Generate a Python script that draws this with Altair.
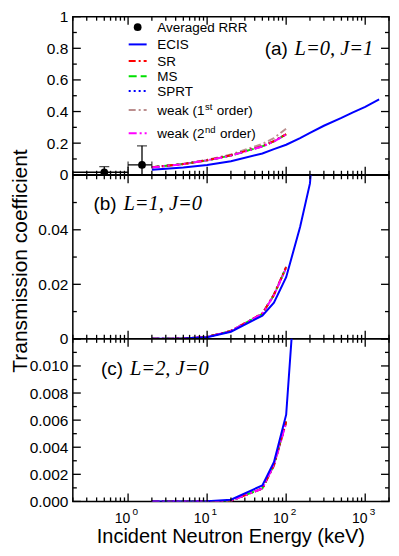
import altair as alt
import pandas as pd

# ---------------- data ----------------
E_MODEL = [2, 5, 10, 20, 50, 70, 100]                      # keV
E_ECIS_A = [2, 5, 10, 20, 50, 70, 100, 150, 200, 300, 500, 700, 1000, 1500]
E_ECIS_BC = [2, 5, 10, 20, 50, 70, 100, 150, 200, 300]

# (a) L=0, J=1
ECIS_A = [0.032, 0.046, 0.062, 0.085, 0.135, 0.162, 0.190, 0.232, 0.265, 0.310, 0.360, 0.395, 0.430, 0.477]
SR_A = [0.047, 0.068, 0.092, 0.123, 0.181, 0.213, 0.257]
MS_A = [0.047, 0.068, 0.091, 0.122, 0.180, 0.212, 0.255]
SPRT_A = [0.047, 0.068, 0.091, 0.122, 0.180, 0.212, 0.256]
W1_A = [0.047, 0.069, 0.095, 0.128, 0.195, 0.232, 0.292]
W2_A = [0.046, 0.067, 0.091, 0.121, 0.179, 0.211, 0.254]

# (b) L=1, J=0
ECIS_B = [0.00002, 0.0001, 0.0006, 0.0026, 0.0085, 0.0133, 0.0226, 0.041, 0.057, 0.12]
SR_B = [0.00002, 0.0001, 0.0007, 0.0029, 0.0093, 0.0162, 0.0263]
MS_B = [0.00002, 0.0001, 0.0007, 0.0029, 0.0092, 0.0161, 0.0262]
SPRT_B = [0.00002, 0.0001, 0.0007, 0.0029, 0.0092, 0.0161, 0.0262]
W1_B = [0.00002, 0.0001, 0.0007, 0.0029, 0.0093, 0.0163, 0.0265]
W2_B = [0.00002, 0.0001, 0.0007, 0.0029, 0.0092, 0.0160, 0.0260]

# (c) L=2, J=0
ECIS_C = [0.0, 0.000001, 0.00001, 0.00013, 0.00118, 0.0029, 0.0064, 0.0209, 0.045, 0.1]
SR_C = [0.0, 0.0, 0.000005, 0.00005, 0.00095, 0.0027, 0.0059]
MS_C = [0.0, 0.0, 0.000005, 0.00005, 0.00096, 0.0027, 0.0059]
SPRT_C = [0.0, 0.0, 0.000005, 0.00005, 0.00096, 0.0027, 0.0059]
W1_C = [0.0, 0.0, 0.000005, 0.00005, 0.00094, 0.0026, 0.0058]
W2_C = [0.0, 0.0, 0.000005, 0.00005, 0.00095, 0.0027, 0.0058]

# Averaged RRR points
RRR_E = [0.5, 1.5]
RRR_T = [0.016, 0.062]
RRR_DT = [0.035, 0.121]
RRR_ELO = [0.1, 1.0]
RRR_EHI = [1.0, 2.0]

# axis ticks / labels
X_DOMAIN = [0.2, 2000]
X_MAJOR = [1, 10, 100, 1000]
X_MINOR = [0.2, 0.3, 0.4, 0.5, 0.6, 0.7, 0.8, 0.9,
           2, 3, 4, 5, 6, 7, 8, 9,
           20, 30, 40, 50, 60, 70, 80, 90,
           200, 300, 400, 500, 600, 700, 800, 900, 2000]
X_LABEL_BASE = ["10", "10", "10", "10"]
X_LABEL_EXP = ["0", "1", "2", "3"]

YA_MAJOR = [0, 0.2, 0.4, 0.6, 0.8, 1.0]
YA_MINOR = [0.1, 0.3, 0.5, 0.7, 0.9]
YA_LABELS = [0, 0.2, 0.4, 0.6, 0.8, 1.0]
YB_MAJOR = [0, 0.02, 0.04, 0.06]
YB_MINOR = [0.01, 0.03, 0.05]
YB_LABELS = [0, 0.02, 0.04]
YC_MAJOR = [0, 0.002, 0.004, 0.006, 0.008, 0.010, 0.012]
YC_MINOR = [0.001, 0.003, 0.005, 0.007, 0.009, 0.011]
YC_LABELS = [0, 0.002, 0.004, 0.006, 0.008, 0.010]

LEGEND_NAMES = ["Averaged RRR", "ECIS", "SR", "MS", "SPRT", "weak (1", "weak (2"]
LEGEND_SUP = ["st", "nd"]
LEGEND_TAIL = "order)"
PANEL_TAGS = ["(a)", "(b)", "(c)"]
PANEL_QN = ["L=0, J=1", "L=1, J=0", "L=2, J=0"]
X_TITLE = "Incident Neutron Energy (keV)"
Y_TITLE = "Transmission coefficient"

# ---------------- styles / layout ----------------
W = 317
H_A, H_B, H_C = 158.5, 164, 163
TOP_SHIFT = 3.5          # panel (a) starts this much lower than in the reference
SANS = "Liberation Sans"
SERIF = "Liberation Serif"
STYLE = {
    "ECIS": dict(color="#0000ff", strokeWidth=2),
    "SR": dict(color="#ff0000", strokeDash=[7, 3, 2, 3], strokeWidth=2),
    "MS": dict(color="#00e000", strokeDash=[8, 4], strokeWidth=2),
    "SPRT": dict(color="#0000ff", strokeDash=[2, 3], strokeWidth=2),
    "weak1": dict(color="#bc8f8f", strokeDash=[7, 3, 2, 3], strokeWidth=2),
    "weak2": dict(color="#ff00ff", strokeDash=[8, 3, 2, 3, 2, 3], strokeWidth=2),
}
MAJ_LEN, MIN_LEN = 8, 4
TICK_W = 1.3

xs = alt.Scale(type="log", domain=X_DOMAIN, nice=False)


def one_row(**kw):
    return pd.DataFrame({k: [v] for k, v in kw.items()})


def panel(H, ydom, ylabels, yfmt, ymaj, ymin, curves, extra_layers):
    ys = alt.Scale(domain=ydom, nice=False, zero=False)
    yaxis = alt.Axis(values=ylabels, format=yfmt, ticks=False, tickSize=0, domain=False,
                     grid=False, title=None, labelFontSize=15.5, labelPadding=5,
                     labelFont=SANS, labelColor="black", labelFlush=False,
                     labelOverlap=False)

    def X(f):
        return alt.X(f, type="quantitative", scale=xs, axis=None)

    def Y(f):
        return alt.Y(f, type="quantitative", scale=ys, axis=yaxis)

    layers = []
    for E, vals, key in curves:
        df = pd.DataFrame({"E": E, "T": vals})
        layers.append(alt.Chart(df).mark_line(clip=True, **STYLE[key]).encode(x=X("E"), y=Y("T")))

    # inward ticks on all four sides
    for vals, L in ((X_MAJOR, MAJ_LEN), (X_MINOR, MIN_LEN)):
        df = pd.DataFrame({"v": vals})
        layers.append(alt.Chart(df).mark_rule(color="black", strokeWidth=TICK_W).encode(
            x=X("v"), y=alt.value(0), y2=alt.value(L)))
        layers.append(alt.Chart(df).mark_rule(color="black", strokeWidth=TICK_W).encode(
            x=X("v"), y=alt.value(H), y2=alt.value(H - L)))
    for vals, L in ((ymaj, MAJ_LEN), (ymin, MIN_LEN)):
        df = pd.DataFrame({"v": vals})
        layers.append(alt.Chart(df).mark_rule(color="black", strokeWidth=TICK_W).encode(
            y=Y("v"), x=alt.value(0), x2=alt.value(L)))
        layers.append(alt.Chart(df).mark_rule(color="black", strokeWidth=TICK_W).encode(
            y=Y("v"), x=alt.value(W), x2=alt.value(W - L)))

    for make in extra_layers:
        layers.append(make(X, Y))
    return alt.layer(*layers).properties(width=W, height=H)


def tag_layers(i, x_tag, x_qn, y_base):
    def mk_tag(X, Y):
        return alt.Chart(one_row(t=PANEL_TAGS[i])).mark_text(
            font=SANS, fontSize=19, align="left", baseline="alphabetic", color="black"
        ).encode(text="t:N", x=alt.value(x_tag), y=alt.value(y_base))

    def mk_qn(X, Y):
        return alt.Chart(one_row(t=PANEL_QN[i])).mark_text(
            font=SERIF, fontSize=20.5, fontStyle="italic", align="left",
            baseline="alphabetic", color="black"
        ).encode(text="t:N", x=alt.value(x_qn), y=alt.value(y_base))
    return [mk_tag, mk_qn]


# ---- panel (a) extras: data points with error bars + legend ----
rrr = pd.DataFrame({"E": RRR_E, "T": RRR_T,
                    "lo": [t - d for t, d in zip(RRR_T, RRR_DT)],
                    "hi": [t + d for t, d in zip(RRR_T, RRR_DT)],
                    "Elo": RRR_ELO, "Ehi": RRR_EHI})


def rrr_layers():
    def v_bar(X, Y):
        return alt.Chart(rrr).mark_rule(clip=True, color="black", strokeWidth=1.3).encode(
            x=X("E"), y=Y("lo"), y2="hi:Q")

    def h_bar(X, Y):
        return alt.Chart(rrr).mark_rule(clip=True, color="black", strokeWidth=1.3).encode(
            x=X("Elo"), x2="Ehi:Q", y=Y("T"))

    def cap_top(X, Y):
        return alt.Chart(rrr).mark_tick(clip=True, orient="horizontal", size=10,
                                        thickness=1.3, color="black").encode(x=X("E"), y=Y("hi"))

    def cap_l(X, Y):
        return alt.Chart(rrr).mark_tick(clip=True, orient="vertical", size=7,
                                        thickness=1.3, color="black").encode(x=X("Elo"), y=Y("T"))

    def cap_r(X, Y):
        return alt.Chart(rrr).mark_tick(clip=True, orient="vertical", size=7,
                                        thickness=1.3, color="black").encode(x=X("Ehi"), y=Y("T"))

    def pts(X, Y):
        return alt.Chart(rrr).mark_point(filled=True, size=60, color="black", opacity=1).encode(
            x=X("E"), y=Y("T"))
    return [v_bar, h_bar, cap_top, cap_l, cap_r, pts]


LEG_ROW_Y = [y - TOP_SHIFT for y in (14, 31.3, 48, 63.3, 78, 97, 120.3)]
LEG_SYM_X0, LEG_SYM_X1, LEG_DOT_X, LEG_TXT_X = 56, 74, 65, 84.7
LEG_FS, SUP_FS = 13.5, 9.5
LEG_KEYS = [None, "ECIS", "SR", "MS", "SPRT", "weak1", "weak2"]


def legend_layers():
    out = []

    def dot(X, Y):
        return alt.Chart(one_row(k=0)).mark_point(filled=True, size=60, color="black", opacity=1).encode(
            x=alt.value(LEG_DOT_X), y=alt.value(LEG_ROW_Y[0]))
    out.append(dot)
    for j in range(1, 7):
        key = LEG_KEYS[j]
        yv = LEG_ROW_Y[j]

        def sym(X, Y, key=key, yv=yv):
            return alt.Chart(one_row(k=0)).mark_rule(**STYLE[key]).encode(
                x=alt.value(LEG_SYM_X0), x2=alt.value(LEG_SYM_X1), y=alt.value(yv))
        out.append(sym)
    for j in range(7):
        yv = LEG_ROW_Y[j] + 4.6

        def lab(X, Y, j=j, yv=yv):
            return alt.Chart(one_row(t=LEGEND_NAMES[j])).mark_text(
                font=SANS, fontSize=LEG_FS, align="left", baseline="alphabetic", color="black"
            ).encode(text="t:N", x=alt.value(LEG_TXT_X), y=alt.value(yv))
        out.append(lab)
    # superscripts and tails for the two "weak" rows
    base_w = 3.501 * LEG_FS  # width of "weak (1" in Helvetica/Arial metrics
    sup_w = [0.778 * SUP_FS, 1.112 * SUP_FS]
    for s in range(2):
        yv = LEG_ROW_Y[5 + s] + 4.6
        xs_sup = LEG_TXT_X + base_w + 0.6
        xs_tail = xs_sup + sup_w[s] + 0.278 * LEG_FS + 0.6

        def sup(X, Y, s=s, yv=yv, xx=xs_sup):
            return alt.Chart(one_row(t=LEGEND_SUP[s])).mark_text(
                font=SANS, fontSize=SUP_FS, align="left", baseline="alphabetic", color="black"
            ).encode(text="t:N", x=alt.value(xx), y=alt.value(yv - 5))

        def tail(X, Y, yv=yv, xx=xs_tail):
            return alt.Chart(one_row(t=LEGEND_TAIL)).mark_text(
                font=SANS, fontSize=LEG_FS, align="left", baseline="alphabetic", color="black"
            ).encode(text="t:N", x=alt.value(xx), y=alt.value(yv))
        out += [sup, tail]
    return out


def ytitle_layer(X, Y):
    return alt.Chart(one_row(t=Y_TITLE)).mark_text(
        font=SANS, fontSize=21, angle=270, align="center", baseline="middle", color="black"
    ).encode(text="t:N", x=alt.value(-52.4), y=alt.value(86))


xlab = pd.DataFrame({"v": X_MAJOR, "b": X_LABEL_BASE, "e": X_LABEL_EXP})


def xlabel_layers():
    def base(X, Y):
        return alt.Chart(xlab).mark_text(font=SANS, fontSize=14, align="center",
                                         baseline="alphabetic", dx=-5.5, color="black").encode(
            x=X("v"), y=alt.value(H_C + 21.3), text="b:N")

    def expo(X, Y):
        return alt.Chart(xlab).mark_text(font=SANS, fontSize=10, align="left",
                                         baseline="alphabetic", dx=4.5, color="black").encode(
            x=X("v"), y=alt.value(H_C + 14.0), text="e:N")

    def title(X, Y):
        return alt.Chart(one_row(t=X_TITLE)).mark_text(
            font=SANS, fontSize=20, align="center", baseline="alphabetic", color="black"
        ).encode(text="t:N", x=alt.value(W / 2), y=alt.value(H_C + 42.0))
    return [base, expo, title]


curves_a = [(E_MODEL, W1_A, "weak1"), (E_MODEL, SPRT_A, "SPRT"), (E_MODEL, MS_A, "MS"),
            (E_MODEL, SR_A, "SR"), (E_MODEL, W2_A, "weak2"), (E_ECIS_A, ECIS_A, "ECIS")]
curves_b = [(E_MODEL, W1_B, "weak1"), (E_MODEL, SPRT_B, "SPRT"), (E_MODEL, MS_B, "MS"),
            (E_MODEL, SR_B, "SR"), (E_MODEL, W2_B, "weak2"), (E_ECIS_BC, ECIS_B, "ECIS")]
curves_c = [(E_MODEL, W1_C, "weak1"), (E_MODEL, SPRT_C, "SPRT"), (E_MODEL, MS_C, "MS"),
            (E_MODEL, SR_C, "SR"), (E_MODEL, W2_C, "weak2"), (E_ECIS_BC, ECIS_C, "ECIS")]

pa = panel(H_A, [0, 1], YA_LABELS, "~g", YA_MAJOR, YA_MINOR, curves_a,
           rrr_layers() + legend_layers() + tag_layers(0, 192.3, 222.3, 42 - TOP_SHIFT))
pb = panel(H_B, [0, 0.06], YB_LABELS, "~g", YB_MAJOR, YB_MINOR, curves_b,
           tag_layers(1, 20.7, 50.7, 35.3) + [ytitle_layer])
pc = panel(H_C, [0, 0.012], YC_LABELS, ".3f", YC_MAJOR, YC_MINOR, curves_c,
           tag_layers(2, 28.3, 57.3, 36.5) + xlabel_layers())

chart = alt.vconcat(pa, pb, pc, spacing=0, bounds="flush").properties(
    padding={"left": 0, "top": 0, "right": 0, "bottom": 0},
    background="white",
).configure_view(stroke="black", strokeWidth=1.5)

chart.save("out.html", embed_options={"renderer": "svg", "actions": False})
